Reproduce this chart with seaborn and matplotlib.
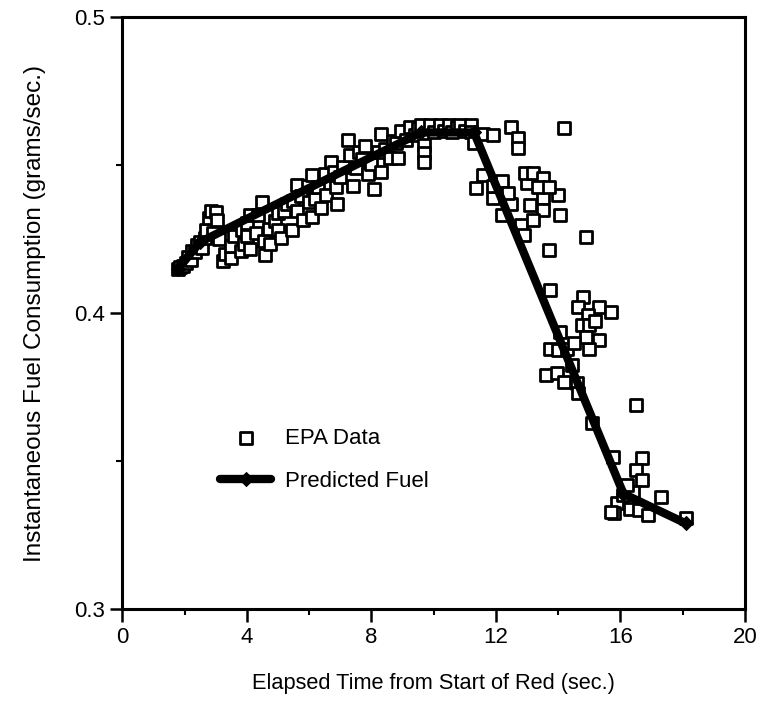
import numpy as np
import pandas as pd
import matplotlib
matplotlib.use("Agg")
import matplotlib.pyplot as plt
import seaborn as sns
from matplotlib.ticker import MultipleLocator

epa_time = [
    1.8, 1.85, 1.95, 2.05, 2.1, 2.2, 2.25, 2.35, 2.4, 2.5, 2.55, 2.65, 2.7, 2.8, 2.85,
    3.0, 3.05, 2.9, 3.1, 3.25, 3.3, 3.5, 3.5, 3.6, 3.8, 3.9, 3.85, 4.0, 4.0,
    4.1, 4.1, 4.3, 4.35, 4.5, 4.55, 4.6, 4.7, 4.75, 4.9, 5.0, 5.0, 5.1, 5.2, 5.3,
    5.45, 5.5, 5.6, 5.6, 5.75, 5.8, 5.97, 6.0,
    6.1, 6.1, 6.2, 6.3, 6.4, 6.5, 6.55, 6.7, 6.8, 6.85, 6.9, 7.0, 7.1, 7.25, 7.3,
    7.4, 7.5, 7.6, 7.7, 7.8, 7.9, 8.0, 8.1,
    8.2, 8.3, 8.3, 8.45, 8.6, 8.7, 8.85, 8.8, 8.95, 9.1, 9.25, 9.4, 9.5, 9.6, 9.7,
    9.7, 9.7, 9.9, 10.0, 10.2, 10.35, 10.5, 10.6, 10.75, 10.85, 11.0, 11.2, 11.2,
    11.3, 11.6, 11.9,
    12.5, 12.7, 12.7, 14.2, 11.6, 11.35, 11.9, 11.9, 12.2, 12.5, 12.8, 12.9, 13.0,
    12.95, 13.2, 13.5, 13.5, 13.5, 13.35, 14.0, 14.06, 14.9, 13.7, 13.2, 12.2, 12.4,
    13.1, 13.7,
    13.74, 14.8, 15.3, 15.7, 14.65, 14.96, 14.76, 15.0, 14.06, 15.3, 15.0, 13.74,
    14.0, 14.3, 14.45, 13.6, 13.96, 14.2, 14.6, 14.64, 14.9, 14.5, 15.2,
    16.5, 15.1, 15.76, 16.7, 16.5, 16.7, 17.3, 16.4, 15.9, 15.8, 16.3, 16.6, 16.9,
    18.1, 15.7, 16.1, 16.2,
]
epa_fuel = [
    0.415, 0.4155, 0.416, 0.417, 0.419, 0.418, 0.421, 0.4205, 0.423, 0.424, 0.422,
    0.4255, 0.428, 0.432, 0.4345, 0.434, 0.4315, 0.427, 0.425, 0.4175, 0.42, 0.4185,
    0.4225, 0.426, 0.421, 0.4235, 0.428, 0.4305, 0.426,
    0.433, 0.4215, 0.427, 0.433, 0.4375, 0.4245, 0.4195, 0.4285, 0.4235, 0.431,
    0.4338, 0.428, 0.4255, 0.4345, 0.437, 0.428, 0.438, 0.4432, 0.4345, 0.4395,
    0.4315, 0.443, 0.4375,
    0.4465, 0.4325, 0.4385, 0.4425, 0.4355, 0.447, 0.44, 0.451, 0.4475, 0.4425,
    0.437, 0.446, 0.4495, 0.4585, 0.4535, 0.443, 0.449, 0.4545, 0.452, 0.4565,
    0.447, 0.4505, 0.442,
    0.4545, 0.4605, 0.4475, 0.4555, 0.4525, 0.458, 0.4525, 0.4575, 0.4615, 0.4585,
    0.4628, 0.46, 0.4625, 0.4635, 0.4568, 0.454, 0.451, 0.4635, 0.461, 0.4635,
    0.4615, 0.4635, 0.461, 0.463, 0.4635, 0.4615, 0.4635, 0.461, 0.4575, 0.4605, 0.46,
    0.4628, 0.459, 0.4557, 0.4625, 0.4466, 0.4422, 0.4389, 0.443, 0.433, 0.437,
    0.4297, 0.4264, 0.4439, 0.4473, 0.4473, 0.4456, 0.439, 0.4348, 0.4426, 0.44,
    0.433, 0.4257, 0.4213, 0.4314, 0.4445, 0.4405, 0.4365, 0.4425,
    0.4078, 0.4054, 0.402, 0.4003, 0.402, 0.3993, 0.396, 0.396, 0.3936, 0.391,
    0.388, 0.388, 0.3875, 0.388, 0.3824, 0.379, 0.3797, 0.3767, 0.3764, 0.373,
    0.392, 0.39, 0.3975,
    0.369, 0.3628, 0.3514, 0.351, 0.347, 0.3436, 0.3378, 0.3395, 0.336, 0.3324,
    0.334, 0.3334, 0.3318, 0.3307, 0.3328, 0.3385, 0.342,
]

# Curva do modelo (combustível previsto)
pred_time = [1.8, 2.5, 9.6, 11.3, 16.1, 18.1]
pred_fuel = [0.415, 0.424, 0.461, 0.461, 0.339, 0.329]

x_ticks = [0, 4, 8, 12, 16, 20]
y_ticks = [0.3, 0.4, 0.5]
y_tick_labels = ["0.3", "0.4", "0.5"]

sns.set_theme(style="ticks")
plt.rcParams["font.family"] = ["Liberation Sans", "DejaVu Sans"]
plt.rcParams["text.color"] = "black"
plt.rcParams["axes.labelcolor"] = "black"
plt.rcParams["xtick.color"] = "black"
plt.rcParams["ytick.color"] = "black"

fig, ax = plt.subplots(figsize=(7.64, 7.06), dpi=100)
fig.subplots_adjust(left=0.160, right=0.975, top=0.976, bottom=0.137)

sns.lineplot(x=pred_time, y=pred_fuel, sort=False, color="black", linewidth=6,
             marker="D", markersize=7, markeredgecolor="black",
             label="Predicted Fuel", ax=ax, zorder=3)
sns.scatterplot(x=epa_time, y=epa_fuel, marker="s", s=70, color="white",
                edgecolor="black", linewidth=2, label="EPA Data", ax=ax, zorder=2)

ax.set_xlim(0, 20)
ax.set_ylim(0.3, 0.5)
ax.set_xticks(x_ticks)
ax.set_yticks(y_ticks)
ax.set_yticklabels(y_tick_labels)
ax.xaxis.set_minor_locator(MultipleLocator(2))
ax.yaxis.set_minor_locator(MultipleLocator(0.05))
ax.tick_params(which="major", direction="out", length=9, width=1.8,
               labelsize=16, colors="black")
ax.tick_params(which="minor", direction="out", length=4, width=1.5)

for side in ["left", "right", "top", "bottom"]:
    ax.spines[side].set_visible(True)
    ax.spines[side].set_linewidth(2.2)
    ax.spines[side].set_color("black")

ax.set_xlabel("Elapsed Time from Start of Red (sec.)", fontsize=15.7, labelpad=18)
ax.set_ylabel("Instantaneous Fuel Consumption (grams/sec.)", fontsize=17.5, labelpad=20)

handles, labels = ax.get_legend_handles_labels()
order = [labels.index("EPA Data"), labels.index("Predicted Fuel")]
ax.legend([handles[i] for i in order], [labels[i] for i in order],
          loc="upper left", bbox_to_anchor=(0.125, 0.34), frameon=False,
          fontsize=16, handlelength=2.3, handletextpad=0.6, labelspacing=1.0)

plt.savefig("out.png", dpi=100)
